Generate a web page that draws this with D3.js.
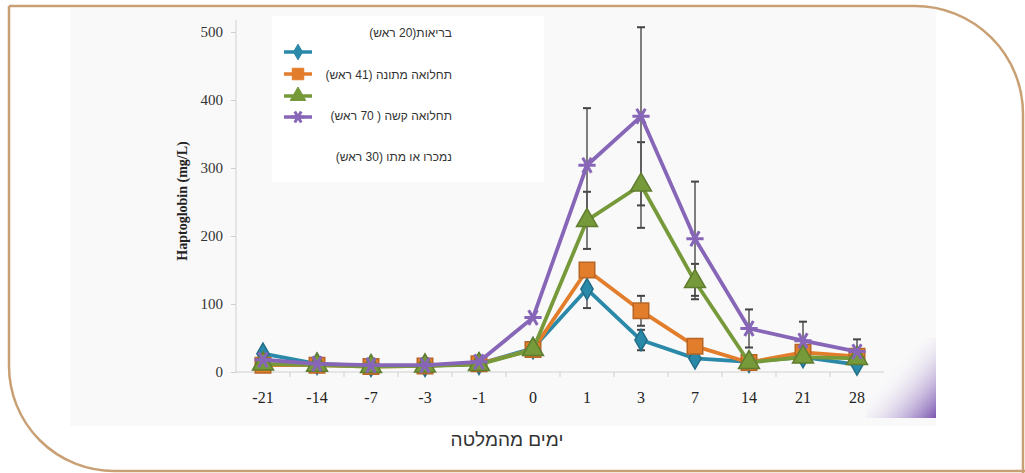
<!DOCTYPE html>
<html>
<head>
<meta charset="utf-8">
<script src="https://cdn.jsdelivr.net/npm/d3@7"></script>
<style>
  body { margin: 0; background: #fff; }
  svg { display: block; }
</style>
</head>
<body>
<div id="chart"></div>
<script>
// data
var days = ["-21", "-14", "-7", "-3", "-1", "0", "1", "3", "7", "14", "21", "28"];
var healthy  = [27, 12, 9, 9, 12, 35, 122, 47, 20, 15, 22, 11];
var moderate = [10, 10, 8, 9, 12, 33, 150, 90, 38, 14, 29, 23];
var severe   = [12, 10, 8, 9, 11, 33, 223, 275, 133, 14, 22, 20];
var culled   = [18, 12, 10, 10, 15, 80, 304, 376, 196, 64, 46, 30];
var healthyErr  = [0, 0, 0, 0, 0, 0, 28, 15, 0, 0, 0, 0];
var moderateErr = [0, 0, 0, 0, 0, 0, 0, 22, 0, 0, 0, 0];
var severeErr   = [0, 0, 0, 0, 0, 0, 42, 63, 26, 0, 0, 0];
var culledErr   = [0, 0, 0, 0, 0, 0, 84, 131, 84, 28, 28, 18];
var legendLabels = ["בריאות(20 ראש)", "תחלואה מתונה (41 ראש)", "תחלואה קשה ( 70 ראש)", "נמכרו או מתו (30 ראש)"];
var yTicks = [0, 100, 200, 300, 400, 500];

var svgWidth = 1025;
var svgHeight = 473;

var svg = d3.select("#chart")
    .append("svg")
    .attr("width", svgWidth)
    .attr("height", svgHeight);

var defs = svg.append("defs");
var grad = defs.append("linearGradient")
    .attr("id", "corner")
    .attr("x1", "0").attr("y1", "0").attr("x2", "1").attr("y2", "1");
grad.append("stop").attr("offset", "0.35").attr("stop-color", "#ffffff").attr("stop-opacity", 0);
grad.append("stop").attr("offset", "1").attr("stop-color", "#7a55b0");

// frame
svg.append("rect")
    .attr("x", 70).attr("y", 8)
    .attr("width", 866).attr("height", 418)
    .attr("fill", "#f9f9f9");
svg.append("rect")
    .attr("x", 866).attr("y", 338)
    .attr("width", 70).attr("height", 80)
    .attr("fill", "url(#corner)");

var r1 = 108, r2 = 105;
svg.append("path")
    .attr("d", "M9,6 L" + (1023 - r1) + ",6 A" + r1 + "," + r1 + " 0 0 1 1023," + (6 + r1) +
        " L1023,473 M9,6 L9," + (471 - r2) + " A" + r2 + "," + r2 + " 0 0 0 " + (9 + r2) + ",471 L1025,471")
    .attr("fill", "none")
    .attr("stroke", "#c9a074")
    .attr("stroke-width", 2.5);

var x = d3.scalePoint()
    .domain(days)
    .range([236, 884])
    .padding(0.5);
var step = x.step();

var y = d3.scaleLinear()
    .domain([0, 500])
    .range([372, 32]);

// axes
var leftAxis = d3.axisLeft(y).tickValues(yTicks).tickSize(5).tickPadding(8);
var yG = svg.append("g")
    .attr("transform", "translate(236,0)")
    .call(leftAxis);
yG.select(".domain").attr("stroke", "#d0d0d0").attr("d", "M0,20V372");
yG.selectAll(".tick line").attr("stroke", "#cfcfcf");
yG.selectAll(".tick text")
    .attr("fill", "#333")
    .style("font-family", "Liberation Serif, DejaVu Serif, serif")
    .style("font-size", "15px");

var xG = svg.append("g")
    .attr("transform", "translate(0,372)");
xG.append("line")
    .attr("x1", 236).attr("x2", 884)
    .attr("stroke", "#d0d0d0");
xG.selectAll(".minor")
    .data(days.slice(1))
    .enter()
    .append("line")
    .attr("x1", d => x(d) - step / 2)
    .attr("x2", d => x(d) - step / 2)
    .attr("y1", 0).attr("y2", 5)
    .attr("stroke", "#cfcfcf");
xG.selectAll(".lbl")
    .data(days)
    .enter()
    .append("text")
    .attr("x", d => x(d))
    .attr("y", 31)
    .attr("text-anchor", "middle")
    .attr("fill", "#222")
    .style("font-family", "Liberation Serif, DejaVu Serif, serif")
    .style("font-size", "16px")
    .text(d => d);

svg.append("text")
    .attr("transform", "translate(187,201) rotate(-90)")
    .attr("text-anchor", "middle")
    .attr("fill", "#222")
    .style("font-family", "Liberation Serif, DejaVu Serif, serif")
    .style("font-weight", "bold")
    .style("font-size", "14px")
    .text("Haptoglobin (mg/L)");

svg.append("text")
    .attr("x", 507)
    .attr("y", 446)
    .attr("text-anchor", "middle")
    .attr("fill", "#333")
    .style("font-family", "Liberation Sans, DejaVu Sans, sans-serif")
    .style("font-size", "19px")
    .text("ימים מהמלטה");

// series
var series = [
    { vals: healthy, err: healthyErr, color: "#2a88a8", sym: d3.symbolDiamond, size: 130, rot: 0 },
    { vals: moderate, err: moderateErr, color: "#e27d2c", sym: d3.symbolSquare, size: 240, rot: 0 },
    { vals: severe, err: severeErr, color: "#76993a", sym: d3.symbolTriangle, size: 190, rot: 0 },
    { vals: culled, err: culledErr, color: "#8766b8", sym: d3.symbolAsterisk, size: 210, rot: 90 }
];

var line = d3.line()
    .x((d, i) => x(days[i]))
    .y(d => y(d));

// error bars
series.forEach(function(s) {
    var eb = svg.append("g");
    s.vals.forEach(function(v, i) {
        if (!s.err[i]) return;
        var cx = x(days[i]);
        var top = y(v + s.err[i]), bot = y(v - s.err[i]);
        eb.append("line").attr("x1", cx).attr("x2", cx).attr("y1", top).attr("y2", bot)
            .attr("stroke", "#555").attr("stroke-width", 1.5);
        [top, bot].forEach(function(yy) {
            eb.append("line").attr("x1", cx - 4).attr("x2", cx + 4).attr("y1", yy).attr("y2", yy)
                .attr("stroke", "#444").attr("stroke-width", 2);
        });
    });
});

series.forEach(function(s) {
    svg.append("path")
        .datum(s.vals)
        .attr("d", line)
        .attr("fill", "none")
        .attr("stroke", s.color)
        .attr("stroke-width", 3.8)
        .attr("stroke-linejoin", "round");

    svg.selectAll(null)
        .data(s.vals)
        .enter()
        .append("path")
        .attr("d", d3.symbol().type(s.sym).size(s.size))
        .attr("transform", (d, i) => "translate(" + x(days[i]) + "," + y(d) + ") rotate(" + s.rot + ")")
        .attr("fill", s.color)
        .attr("stroke", s.sym === d3.symbolAsterisk ? s.color : d3.color(s.color).darker(0.6))
        .attr("stroke-width", s.sym === d3.symbolAsterisk ? 3 : 1.5);
});

// legend
svg.append("rect")
    .attr("x", 272).attr("y", 16)
    .attr("width", 272).attr("height", 166)
    .attr("fill", "#ffffff");

var legendY = [52, 74, 96, 117];
series.forEach(function(s, i) {
    var g = svg.append("g").attr("transform", "translate(298," + legendY[i] + ")");
    g.append("line").attr("x1", -14).attr("x2", 14)
        .attr("stroke", s.color).attr("stroke-width", 3.5);
    g.append("path")
        .attr("d", d3.symbol().type(s.sym).size(s.size * 0.55))
        .attr("transform", "rotate(" + s.rot + ")")
        .attr("fill", s.color)
        .attr("stroke", s.color)
        .attr("stroke-width", s.sym === d3.symbolAsterisk ? 3 : 1);
});

var textY = [37, 79, 120, 161];
svg.selectAll(".legtext")
    .data(legendLabels)
    .enter()
    .append("text")
    .attr("x", 452)
    .attr("y", (d, i) => textY[i])
    .attr("direction", "rtl")
    .attr("text-anchor", "start")
    .attr("fill", "#333")
    .style("font-family", "Liberation Sans, DejaVu Sans, sans-serif")
    .style("font-size", "12px")
    .text(d => d);
</script>
</body>
</html>
